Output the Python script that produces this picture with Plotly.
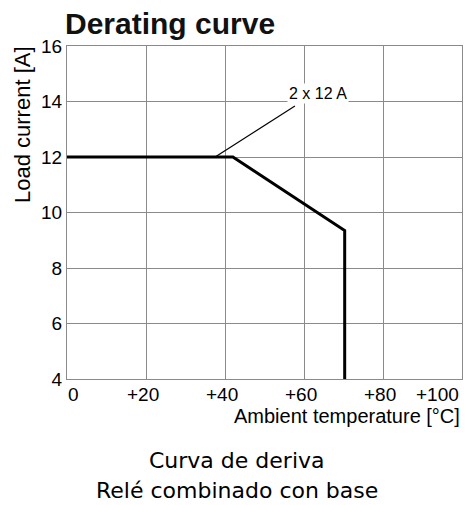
import plotly.graph_objects as go

# Data
temp = [0, 42, 70.3, 70.3]
current = [12, 12, 9.35, 4]
x_ticks = [0, 20, 40, 60, 80, 100]
x_tick_labels = ["0", "+20", "+40", "+60", "+80", "+100"]
y_ticks = [4, 6, 8, 10, 12, 14, 16]
y_tick_labels = ["4", "6", "8", "10", "12", "14", "16"]
pointer_x = [37.5, 57.7]
pointer_y = [12, 13.84]
label_text = "2 x 12 A"

NARROW = "Liberation Sans, Arial"
WIDE = "DejaVu Sans, Verdana"

fig = go.Figure()
fig.add_trace(go.Scatter(x=pointer_x, y=pointer_y, mode="lines",
                         line=dict(color="black", width=1.2), hoverinfo="skip"))
fig.add_trace(go.Scatter(x=temp, y=current, mode="lines",
                         line=dict(color="black", width=3), hoverinfo="skip"))

fig.add_annotation(x=63.5, y=14, text=label_text, showarrow=False,
                   yshift=8, bgcolor="white",
                   font=dict(family=NARROW, size=16, color="black"))

shifts = {0: 6, 100: -25}
for v, t in zip(x_ticks, x_tick_labels):
    fig.add_annotation(x=v, y=0, yref="paper", text=t, showarrow=False,
                       yanchor="top", yshift=-3, xshift=shifts.get(v, -3),
                       font=dict(family=NARROW, size=19, color="black"))

fig.add_annotation(x=1, xref="paper", y=0, yref="paper", yanchor="top",
                   xanchor="right", yshift=-24, text="Ambient temperature [°C]",
                   showarrow=False, font=dict(family=NARROW, size=20, color="black"))

# y axis title (top-aligned as in the reference)
fig.add_annotation(x=0, xref="paper", y=(379 - 125) / (379 - 46), yref="paper",
                   xanchor="center", yanchor="middle", xshift=22 - 67,
                   textangle=-90, text="Load current [A]", showarrow=False,
                   font=dict(family=NARROW, size=22, color="black"))

fig.update_layout(
    width=465, height=505,
    margin=dict(l=67, r=3, t=46, b=126),
    paper_bgcolor="white", plot_bgcolor="white",
    showlegend=False,
    title=dict(text="<b>Derating curve</b>", x=65/465, xanchor="left",
               y=1 - 23/505, yanchor="middle",
               font=dict(family=NARROW, size=30, color="#111")),
    xaxis=dict(range=[0, 100], tickvals=x_ticks, showticklabels=False,
               showgrid=True, gridcolor="#8a8a8a", gridwidth=1,
               zeroline=False, showline=True, linecolor="#8a8a8a", mirror=True,
               ticks="", automargin=False),
    yaxis=dict(range=[4, 16], tickvals=y_ticks, ticktext=y_tick_labels,
               showgrid=True, gridcolor="#8a8a8a", gridwidth=1,
               zeroline=False, showline=True, linecolor="#8a8a8a", mirror=True,
               ticks="", ticklen=0, automargin=False,
               tickfont=dict(family=NARROW, size=19, color="black")),
)

fig.add_annotation(x=0.5, xref="paper", y=0, yref="paper", yanchor="middle",
                   xshift=(237 - (67 + 462) / 2), yshift=-(460 - 379),
                   text="Curva de deriva", showarrow=False,
                   font=dict(family=WIDE, size=22, color="black"))
fig.add_annotation(x=0.5, xref="paper", y=0, yref="paper", yanchor="middle",
                   xshift=(237 - (67 + 462) / 2), yshift=-(490 - 379),
                   text="Relé combinado con base", showarrow=False,
                   font=dict(family=WIDE, size=22, color="black"))

fig.write_html("out.html", config={"displayModeBar": False},
               post_script="document.body.style.margin='0';document.body.style.padding='0';")
